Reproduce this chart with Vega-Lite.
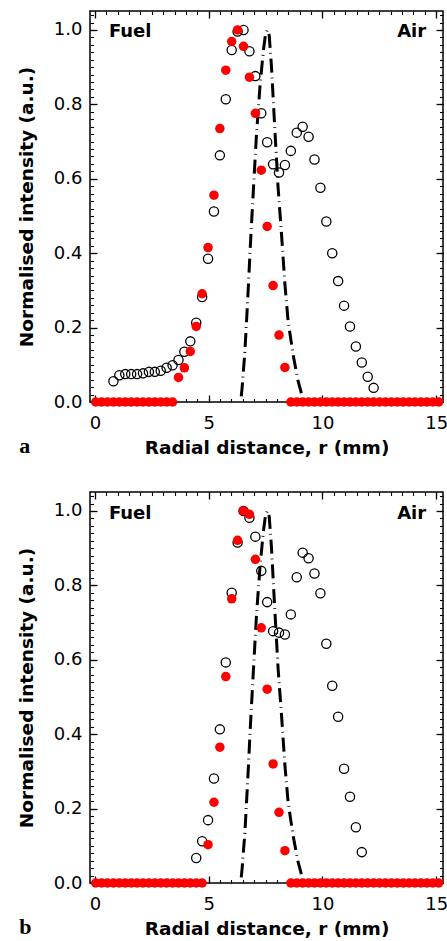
{
  "$schema": "https://vega.github.io/schema/vega-lite/v6.json",
  "background": "white",
  "padding": {"left": 16, "top": 9, "right": 5, "bottom": 0},
  "spacing": 32,
  "datasets": {
    "line": [
      {"r": 6.43, "v": 0.015}, {"r": 6.47, "v": 0.04}, {"r": 6.59, "v": 0.136}, {"r": 6.71, "v": 0.271}, {"r": 6.83, "v": 0.42},
      {"r": 6.96, "v": 0.567}, {"r": 7.10, "v": 0.72}, {"r": 7.25, "v": 0.846}, {"r": 7.40, "v": 0.944}, {"r": 7.50, "v": 0.99},
      {"r": 7.58, "v": 1.0}, {"r": 7.66, "v": 0.985}, {"r": 7.76, "v": 0.90}, {"r": 7.91, "v": 0.729}, {"r": 8.05, "v": 0.576},
      {"r": 8.20, "v": 0.451}, {"r": 8.35, "v": 0.316}, {"r": 8.49, "v": 0.217}, {"r": 8.71, "v": 0.127}, {"r": 8.93, "v": 0.056},
      {"r": 9.05, "v": 0.029}, {"r": 9.10, "v": 0.015}
    ],
    "aOpen": [
      {"r": 0.81, "v": 0.056}, {"r": 1.07, "v": 0.072}, {"r": 1.33, "v": 0.075}, {"r": 1.59, "v": 0.075}, {"r": 1.85, "v": 0.075},
      {"r": 2.11, "v": 0.077}, {"r": 2.37, "v": 0.081}, {"r": 2.63, "v": 0.081}, {"r": 2.89, "v": 0.084}, {"r": 3.15, "v": 0.092},
      {"r": 3.41, "v": 0.099}, {"r": 3.67, "v": 0.113}, {"r": 3.93, "v": 0.135}, {"r": 4.19, "v": 0.163}, {"r": 4.45, "v": 0.213},
      {"r": 4.71, "v": 0.282}, {"r": 4.97, "v": 0.385}, {"r": 5.23, "v": 0.512}, {"r": 5.49, "v": 0.663}, {"r": 5.75, "v": 0.814},
      {"r": 6.01, "v": 0.946}, {"r": 6.27, "v": 0.996}, {"r": 6.53, "v": 1.0}, {"r": 6.79, "v": 0.943}, {"r": 7.05, "v": 0.876},
      {"r": 7.31, "v": 0.776}, {"r": 7.57, "v": 0.698}, {"r": 7.83, "v": 0.639}, {"r": 8.09, "v": 0.617}, {"r": 8.35, "v": 0.637},
      {"r": 8.61, "v": 0.675}, {"r": 8.87, "v": 0.724}, {"r": 9.13, "v": 0.740}, {"r": 9.39, "v": 0.713}, {"r": 9.65, "v": 0.652},
      {"r": 9.91, "v": 0.576}, {"r": 10.17, "v": 0.485}, {"r": 10.43, "v": 0.400}, {"r": 10.69, "v": 0.325}, {"r": 10.95, "v": 0.259},
      {"r": 11.21, "v": 0.203}, {"r": 11.47, "v": 0.149}, {"r": 11.73, "v": 0.106}, {"r": 11.99, "v": 0.068}, {"r": 12.25, "v": 0.038}
    ],
    "aRed": [
      {"r": 0.03, "v": 0}, {"r": 0.29, "v": 0}, {"r": 0.55, "v": 0}, {"r": 0.81, "v": 0}, {"r": 1.07, "v": 0}, {"r": 1.33, "v": 0},
      {"r": 1.59, "v": 0}, {"r": 1.85, "v": 0}, {"r": 2.11, "v": 0}, {"r": 2.37, "v": 0}, {"r": 2.63, "v": 0}, {"r": 2.89, "v": 0},
      {"r": 3.15, "v": 0}, {"r": 3.41, "v": 0},
      {"r": 3.67, "v": 0.066}, {"r": 3.93, "v": 0.092}, {"r": 4.19, "v": 0.136}, {"r": 4.45, "v": 0.203}, {"r": 4.71, "v": 0.291},
      {"r": 4.97, "v": 0.415}, {"r": 5.23, "v": 0.556}, {"r": 5.49, "v": 0.735}, {"r": 5.75, "v": 0.892}, {"r": 6.01, "v": 0.969},
      {"r": 6.27, "v": 1.0}, {"r": 6.53, "v": 0.956}, {"r": 6.79, "v": 0.873}, {"r": 7.05, "v": 0.776}, {"r": 7.31, "v": 0.623},
      {"r": 7.57, "v": 0.472}, {"r": 7.83, "v": 0.313}, {"r": 8.09, "v": 0.180}, {"r": 8.35, "v": 0.093},
      {"r": 8.61, "v": 0}, {"r": 8.87, "v": 0}, {"r": 9.13, "v": 0}, {"r": 9.39, "v": 0}, {"r": 9.65, "v": 0}, {"r": 9.91, "v": 0},
      {"r": 10.17, "v": 0}, {"r": 10.43, "v": 0}, {"r": 10.69, "v": 0}, {"r": 10.95, "v": 0}, {"r": 11.21, "v": 0}, {"r": 11.47, "v": 0},
      {"r": 11.73, "v": 0}, {"r": 11.99, "v": 0}, {"r": 12.25, "v": 0}, {"r": 12.51, "v": 0}, {"r": 12.77, "v": 0}, {"r": 13.03, "v": 0},
      {"r": 13.29, "v": 0}, {"r": 13.55, "v": 0}, {"r": 13.81, "v": 0}, {"r": 14.07, "v": 0}, {"r": 14.33, "v": 0}, {"r": 14.59, "v": 0},
      {"r": 14.85, "v": 0}, {"r": 15.11, "v": 0}
    ],
    "bOpen": [
      {"r": 4.45, "v": 0.067}, {"r": 4.71, "v": 0.112}, {"r": 4.97, "v": 0.169}, {"r": 5.23, "v": 0.281}, {"r": 5.49, "v": 0.413},
      {"r": 5.75, "v": 0.593}, {"r": 6.01, "v": 0.780}, {"r": 6.27, "v": 0.915}, {"r": 6.53, "v": 1.0}, {"r": 6.79, "v": 0.982},
      {"r": 7.05, "v": 0.931}, {"r": 7.31, "v": 0.839}, {"r": 7.57, "v": 0.755}, {"r": 7.83, "v": 0.677}, {"r": 8.09, "v": 0.673},
      {"r": 8.35, "v": 0.668}, {"r": 8.61, "v": 0.722}, {"r": 8.87, "v": 0.822}, {"r": 9.13, "v": 0.888}, {"r": 9.39, "v": 0.873},
      {"r": 9.65, "v": 0.832}, {"r": 9.91, "v": 0.779}, {"r": 10.17, "v": 0.643}, {"r": 10.43, "v": 0.530}, {"r": 10.69, "v": 0.447},
      {"r": 10.95, "v": 0.307}, {"r": 11.21, "v": 0.232}, {"r": 11.47, "v": 0.150}, {"r": 11.73, "v": 0.083}
    ],
    "bRed": [
      {"r": 0.03, "v": 0}, {"r": 0.29, "v": 0}, {"r": 0.55, "v": 0}, {"r": 0.81, "v": 0}, {"r": 1.07, "v": 0}, {"r": 1.33, "v": 0},
      {"r": 1.59, "v": 0}, {"r": 1.85, "v": 0}, {"r": 2.11, "v": 0}, {"r": 2.37, "v": 0}, {"r": 2.63, "v": 0}, {"r": 2.89, "v": 0},
      {"r": 3.15, "v": 0}, {"r": 3.41, "v": 0}, {"r": 3.67, "v": 0}, {"r": 3.93, "v": 0}, {"r": 4.19, "v": 0}, {"r": 4.45, "v": 0},
      {"r": 4.71, "v": 0},
      {"r": 4.97, "v": 0.103}, {"r": 5.23, "v": 0.217}, {"r": 5.49, "v": 0.365}, {"r": 5.75, "v": 0.555}, {"r": 6.01, "v": 0.764},
      {"r": 6.27, "v": 0.921}, {"r": 6.53, "v": 1.0}, {"r": 6.79, "v": 0.991}, {"r": 7.05, "v": 0.870}, {"r": 7.31, "v": 0.686},
      {"r": 7.57, "v": 0.521}, {"r": 7.83, "v": 0.320}, {"r": 8.09, "v": 0.190}, {"r": 8.35, "v": 0.087},
      {"r": 8.61, "v": 0}, {"r": 8.87, "v": 0}, {"r": 9.13, "v": 0}, {"r": 9.39, "v": 0}, {"r": 9.65, "v": 0}, {"r": 9.91, "v": 0},
      {"r": 10.17, "v": 0}, {"r": 10.43, "v": 0}, {"r": 10.69, "v": 0}, {"r": 10.95, "v": 0}, {"r": 11.21, "v": 0}, {"r": 11.47, "v": 0},
      {"r": 11.73, "v": 0}, {"r": 11.99, "v": 0}, {"r": 12.25, "v": 0}, {"r": 12.51, "v": 0}, {"r": 12.77, "v": 0}, {"r": 13.03, "v": 0},
      {"r": 13.29, "v": 0}, {"r": 13.55, "v": 0}, {"r": 13.81, "v": 0}, {"r": 14.07, "v": 0}, {"r": 14.33, "v": 0}, {"r": 14.59, "v": 0},
      {"r": 14.85, "v": 0}, {"r": 15.11, "v": 0}
    ]
  },
  "vconcat": [
    {
      "width": 353,
      "height": 391,
      "title": {"text": "a", "orient": "bottom", "anchor": "start", "frame": "bounds", "font": "Liberation Serif", "fontSize": 22, "fontWeight": "bold", "color": "black", "offset": 0, "dx": 2, "dy": -4, "baseline": "alphabetic"},
      "resolve": {"axis": {"x": "independent", "y": "independent"}},
      "layer": [
        {
          "data": {"name": "line"},
          "mark": {"type": "line", "color": "black", "strokeWidth": 3, "strokeDash": [14, 5, 0.8, 5], "strokeCap": "butt"},
          "encoding": {
            "x": {"field": "r", "type": "quantitative", "scale": {"domain": [-0.22, 15.3], "nice": false, "zero": false},
              "axis": {"orient": "bottom", "values": [0, 5, 10, 15], "format": "d", "ticks": true, "tickColor": "black", "tickWidth": 1.3, "tickOpacity": 1, "tickSize": 7, "offset": -7, "labelPadding": 12, "title": "Radial distance, r  (mm)", "titlePadding": 6}},
            "y": {"field": "v", "type": "quantitative", "scale": {"domain": [0, 1.051], "nice": false},
              "axis": {"orient": "left", "values": [0, 0.2, 0.4, 0.6, 0.8, 1.0], "format": ".1f", "ticks": true, "tickColor": "black", "tickWidth": 1.3, "tickOpacity": 1, "tickSize": 7, "offset": -7, "labelPadding": 8, "title": "Normalised intensity (a.u.)", "titlePadding": 17}}
          }
        },
        {
          "data": {"name": "aOpen"},
          "mark": {"type": "point", "shape": "circle", "filled": false, "stroke": "black", "strokeWidth": 1.3, "size": 85, "opacity": 1},
          "encoding": {
            "x": {"field": "r", "type": "quantitative",
              "axis": {"orient": "bottom", "values": [0,0.5,1,1.5,2,2.5,3,3.5,4,4.5,5,5.5,6,6.5,7,7.5,8,8.5,9,9.5,10,10.5,11,11.5,12,12.5,13,13.5,14,14.5,15], "ticks": true, "tickColor": "black", "tickWidth": 1.1, "tickOpacity": 1, "tickSize": 3.5, "offset": -3.5, "labels": false, "title": null}},
            "y": {"field": "v", "type": "quantitative",
              "axis": {"orient": "left", "values": [0,0.02,0.04,0.06,0.08,0.1,0.12,0.14,0.16,0.18,0.2,0.22,0.24,0.26,0.28,0.3,0.32,0.34,0.36,0.38,0.4,0.42,0.44,0.46,0.48,0.5,0.52,0.54,0.56,0.58,0.6,0.62,0.64,0.66,0.68,0.7,0.72,0.74,0.76,0.78,0.8,0.82,0.84,0.86,0.88,0.9,0.92,0.94,0.96,0.98,1,1.02,1.04], "ticks": true, "tickColor": "black", "tickWidth": 1.1, "tickOpacity": 1, "tickSize": 3.5, "offset": -3.5, "labels": false, "title": null}}
          }
        },
        {
          "data": {"name": "aRed"},
          "mark": {"type": "circle", "color": "#ff0000", "size": 90, "opacity": 1},
          "encoding": {
            "x": {"field": "r", "type": "quantitative",
              "axis": {"orient": "top", "values": [0, 5, 10, 15], "ticks": true, "tickColor": "black", "tickWidth": 1.3, "tickOpacity": 1, "tickSize": 7, "offset": -7, "labels": false, "title": null}},
            "y": {"field": "v", "type": "quantitative",
              "axis": {"orient": "right", "values": [0, 0.2, 0.4, 0.6, 0.8, 1.0], "ticks": true, "tickColor": "black", "tickWidth": 1.3, "tickOpacity": 1, "tickSize": 7, "offset": -7, "labels": false, "title": null}}
          }
        },
        {
          "data": {"values": [{"label": "Fuel"}]},
          "mark": {"type": "text", "align": "left", "baseline": "alphabetic", "font": "DejaVu Sans", "fontWeight": "bold", "fontSize": 18, "color": "black"},
          "encoding": {
            "x": {"datum": 0.61, "type": "quantitative",
              "axis": {"orient": "top", "values": [0,0.5,1,1.5,2,2.5,3,3.5,4,4.5,5,5.5,6,6.5,7,7.5,8,8.5,9,9.5,10,10.5,11,11.5,12,12.5,13,13.5,14,14.5,15], "ticks": true, "tickColor": "black", "tickWidth": 1.1, "tickOpacity": 1, "tickSize": 3.5, "offset": -3.5, "labels": false, "title": null}},
            "y": {"datum": 0.98, "type": "quantitative",
              "axis": {"orient": "right", "values": [0,0.02,0.04,0.06,0.08,0.1,0.12,0.14,0.16,0.18,0.2,0.22,0.24,0.26,0.28,0.3,0.32,0.34,0.36,0.38,0.4,0.42,0.44,0.46,0.48,0.5,0.52,0.54,0.56,0.58,0.6,0.62,0.64,0.66,0.68,0.7,0.72,0.74,0.76,0.78,0.8,0.82,0.84,0.86,0.88,0.9,0.92,0.94,0.96,0.98,1,1.02,1.04], "ticks": true, "tickColor": "black", "tickWidth": 1.1, "tickOpacity": 1, "tickSize": 3.5, "offset": -3.5, "labels": false, "title": null}},
            "text": {"field": "label"}
          }
        },
        {
          "data": {"values": [{"label": "Air"}]},
          "mark": {"type": "text", "align": "right", "baseline": "alphabetic", "font": "DejaVu Sans", "fontWeight": "bold", "fontSize": 18, "color": "black"},
          "encoding": {
            "x": {"datum": 14.56, "type": "quantitative", "axis": null},
            "y": {"datum": 0.98, "type": "quantitative", "axis": null},
            "text": {"field": "label"}
          }
        }
      ]
    },
    {
      "width": 353,
      "height": 391,
      "title": {"text": "b", "orient": "bottom", "anchor": "start", "frame": "bounds", "font": "Liberation Serif", "fontSize": 22, "fontWeight": "bold", "color": "black", "offset": 0, "dx": 2, "dy": -4, "baseline": "alphabetic"},
      "resolve": {"axis": {"x": "independent", "y": "independent"}},
      "layer": [
        {
          "data": {"name": "line"},
          "mark": {"type": "line", "color": "black", "strokeWidth": 3, "strokeDash": [14, 5, 0.8, 5], "strokeCap": "butt"},
          "encoding": {
            "x": {"field": "r", "type": "quantitative", "scale": {"domain": [-0.22, 15.3], "nice": false, "zero": false},
              "axis": {"orient": "bottom", "values": [0, 5, 10, 15], "format": "d", "ticks": true, "tickColor": "black", "tickWidth": 1.3, "tickOpacity": 1, "tickSize": 7, "offset": -7, "labelPadding": 12, "title": "Radial distance, r  (mm)", "titlePadding": 6}},
            "y": {"field": "v", "type": "quantitative", "scale": {"domain": [0, 1.051], "nice": false},
              "axis": {"orient": "left", "values": [0, 0.2, 0.4, 0.6, 0.8, 1.0], "format": ".1f", "ticks": true, "tickColor": "black", "tickWidth": 1.3, "tickOpacity": 1, "tickSize": 7, "offset": -7, "labelPadding": 8, "title": "Normalised intensity (a.u.)", "titlePadding": 17}}
          }
        },
        {
          "data": {"name": "bOpen"},
          "mark": {"type": "point", "shape": "circle", "filled": false, "stroke": "black", "strokeWidth": 1.3, "size": 85, "opacity": 1},
          "encoding": {
            "x": {"field": "r", "type": "quantitative",
              "axis": {"orient": "bottom", "values": [0,0.5,1,1.5,2,2.5,3,3.5,4,4.5,5,5.5,6,6.5,7,7.5,8,8.5,9,9.5,10,10.5,11,11.5,12,12.5,13,13.5,14,14.5,15], "ticks": true, "tickColor": "black", "tickWidth": 1.1, "tickOpacity": 1, "tickSize": 3.5, "offset": -3.5, "labels": false, "title": null}},
            "y": {"field": "v", "type": "quantitative",
              "axis": {"orient": "left", "values": [0,0.02,0.04,0.06,0.08,0.1,0.12,0.14,0.16,0.18,0.2,0.22,0.24,0.26,0.28,0.3,0.32,0.34,0.36,0.38,0.4,0.42,0.44,0.46,0.48,0.5,0.52,0.54,0.56,0.58,0.6,0.62,0.64,0.66,0.68,0.7,0.72,0.74,0.76,0.78,0.8,0.82,0.84,0.86,0.88,0.9,0.92,0.94,0.96,0.98,1,1.02,1.04], "ticks": true, "tickColor": "black", "tickWidth": 1.1, "tickOpacity": 1, "tickSize": 3.5, "offset": -3.5, "labels": false, "title": null}}
          }
        },
        {
          "data": {"name": "bRed"},
          "mark": {"type": "circle", "color": "#ff0000", "size": 90, "opacity": 1},
          "encoding": {
            "x": {"field": "r", "type": "quantitative",
              "axis": {"orient": "top", "values": [0, 5, 10, 15], "ticks": true, "tickColor": "black", "tickWidth": 1.3, "tickOpacity": 1, "tickSize": 7, "offset": -7, "labels": false, "title": null}},
            "y": {"field": "v", "type": "quantitative",
              "axis": {"orient": "right", "values": [0, 0.2, 0.4, 0.6, 0.8, 1.0], "ticks": true, "tickColor": "black", "tickWidth": 1.3, "tickOpacity": 1, "tickSize": 7, "offset": -7, "labels": false, "title": null}}
          }
        },
        {
          "data": {"values": [{"label": "Fuel"}]},
          "mark": {"type": "text", "align": "left", "baseline": "alphabetic", "font": "DejaVu Sans", "fontWeight": "bold", "fontSize": 18, "color": "black"},
          "encoding": {
            "x": {"datum": 0.61, "type": "quantitative",
              "axis": {"orient": "top", "values": [0,0.5,1,1.5,2,2.5,3,3.5,4,4.5,5,5.5,6,6.5,7,7.5,8,8.5,9,9.5,10,10.5,11,11.5,12,12.5,13,13.5,14,14.5,15], "ticks": true, "tickColor": "black", "tickWidth": 1.1, "tickOpacity": 1, "tickSize": 3.5, "offset": -3.5, "labels": false, "title": null}},
            "y": {"datum": 0.978, "type": "quantitative",
              "axis": {"orient": "right", "values": [0,0.02,0.04,0.06,0.08,0.1,0.12,0.14,0.16,0.18,0.2,0.22,0.24,0.26,0.28,0.3,0.32,0.34,0.36,0.38,0.4,0.42,0.44,0.46,0.48,0.5,0.52,0.54,0.56,0.58,0.6,0.62,0.64,0.66,0.68,0.7,0.72,0.74,0.76,0.78,0.8,0.82,0.84,0.86,0.88,0.9,0.92,0.94,0.96,0.98,1,1.02,1.04], "ticks": true, "tickColor": "black", "tickWidth": 1.1, "tickOpacity": 1, "tickSize": 3.5, "offset": -3.5, "labels": false, "title": null}},
            "text": {"field": "label"}
          }
        },
        {
          "data": {"values": [{"label": "Air"}]},
          "mark": {"type": "text", "align": "right", "baseline": "alphabetic", "font": "DejaVu Sans", "fontWeight": "bold", "fontSize": 18, "color": "black"},
          "encoding": {
            "x": {"datum": 14.56, "type": "quantitative", "axis": null},
            "y": {"datum": 0.978, "type": "quantitative", "axis": null},
            "text": {"field": "label"}
          }
        }
      ]
    }
  ],
  "config": {
    "view": {"stroke": "black", "strokeWidth": 1.5, "fill": "transparent"},
    "axis": {
      "labelFont": "DejaVu Sans", "labelFontSize": 18, "labelColor": "black",
      "titleFont": "DejaVu Sans", "titleFontSize": 18.5, "titleFontWeight": "bold", "titleColor": "black",
      "ticks": true, "tickColor": "#000000", "tickOpacity": 1, "tickWidth": 1.3, "domain": false, "grid": false, "minExtent": 0, "zindex": 2,
      "labelOverlap": false, "labelFlush": false, "labelBound": false
    }
  }
}
